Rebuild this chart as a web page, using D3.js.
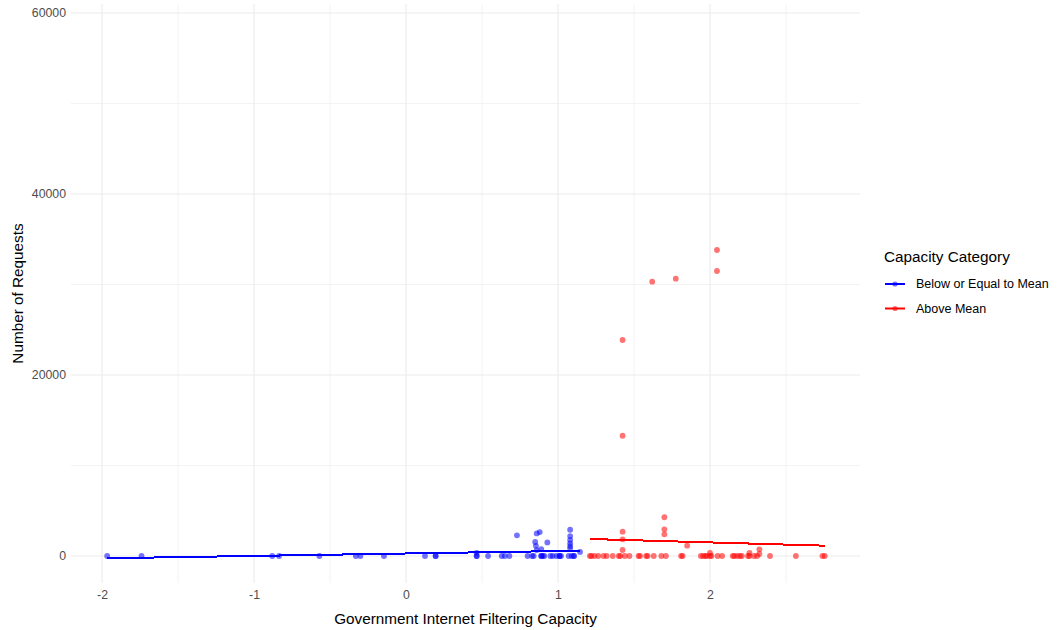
<!DOCTYPE html>
<html>
<head>
<meta charset="utf-8">
<script src="https://cdn.jsdelivr.net/npm/d3@7/dist/d3.min.js"></script>
<style>
  html, body { margin: 0; padding: 0; background: #ffffff; }
  svg { display: block; font-family: "Liberation Sans", Arial, sans-serif; }
</style>
</head>
<body>
<svg id="chart" width="1058" height="630"></svg>
<script>
// Filtering capacity (x) and number of requests (y), split by capacity category
const belowX = [-1.966, -1.74, -0.88, -0.835, -0.57, -0.33, -0.30, -0.145, 0.125, 0.195, 0.195,
  0.465, 0.465, 0.465, 0.54, 0.63, 0.65, 0.68, 0.73, 0.80, 0.83, 0.84, 0.85, 0.855, 0.86, 0.86,
  0.88, 0.89, 0.89, 0.89, 0.90, 0.91, 0.93, 0.95, 0.965, 0.99, 1.01, 1.01, 1.02, 1.07, 1.08, 1.08,
  1.08, 1.08, 1.08, 1.08, 1.09, 1.105, 1.105, 1.145];
const belowY = [0, 0, 0, 0, 0, 0, 0, 0, 0, 0, 0,
  0, 0, 350, 0, 0, 0, 0, 2290, 0, 0, 0, 1550, 1120, 660, 2500,
  2640, 770, 0, 0, 0, 0, 1500, 0, 0, 0, 0, 0, 0, 0, 2900, 2200,
  1780, 1400, 1100, 850, 0, 0, 0, 450];

const aboveX = [1.21, 1.22, 1.24, 1.265, 1.30, 1.32, 1.36, 1.40, 1.41, 1.425, 1.425, 1.425, 1.425,
  1.425, 1.44, 1.47, 1.53, 1.54, 1.58, 1.59, 1.62, 1.63, 1.68, 1.70, 1.70, 1.70, 1.71, 1.775,
  1.81, 1.82, 1.85, 1.94, 1.955, 1.97, 1.98, 2.0, 2.0, 2.01, 2.046, 2.046, 2.05, 2.08, 2.15, 2.16,
  2.18, 2.197, 2.21, 2.25, 2.26, 2.26, 2.29, 2.31, 2.325, 2.325, 2.395, 2.565, 2.74, 2.755];
const aboveY = [0, 0, 0, 0, 0, 0, 0, 0, 0, 663, 1845, 2685, 13290,
  23870, 0, 0, 0, 0, 0, 0, 30310, 0, 0, 2400, 2950, 4280, 0, 30640,
  0, 0, 1140, 0, 0, 0, 0, 330, 0, 0, 31490, 33810, 0, 0, 0, 0,
  0, 0, 0, 0, 0, 330, 0, 0, 740, 221, 0, 0, 0, 0];

// Linear fit per category: [intercept, slope]
const belowFit = [277, 268];
const aboveFit = [2455, -477];

const categories = ["Below or Equal to Mean", "Above Mean"];
const colors = ["#0000ff", "#ff0000"];

const xTicks = [-2, -1, 0, 1, 2];
const xMinor = [-1.5, -0.5, 0.5, 1.5, 2.5];
const yTicks = [0, 20000, 40000, 60000];
const yMinor = [10000, 30000, 50000];

const xDomain = [-2.204, 2.987];
const yDomain = [-2983, 60994];

const panel = { left: 71, right: 860, top: 4, bottom: 583 };

const svg = d3.select("#chart");
const x = d3.scaleLinear().domain(xDomain).range([panel.left, panel.right]);
const y = d3.scaleLinear().domain(yDomain).range([panel.bottom, panel.top]);

// grid
const grid = svg.append("g");
grid.selectAll("line.xminor").data(xMinor).join("line")
  .attr("x1", d => x(d)).attr("x2", d => x(d))
  .attr("y1", panel.top).attr("y2", panel.bottom)
  .attr("stroke", "#f3f3f3").attr("stroke-width", 1);
grid.selectAll("line.yminor").data(yMinor).join("line")
  .attr("x1", panel.left).attr("x2", panel.right)
  .attr("y1", d => y(d)).attr("y2", d => y(d))
  .attr("stroke", "#f3f3f3").attr("stroke-width", 1);
grid.selectAll("line.xmajor").data(xTicks).join("line")
  .attr("x1", d => x(d)).attr("x2", d => x(d))
  .attr("y1", panel.top).attr("y2", panel.bottom)
  .attr("stroke", "#ebebeb").attr("stroke-width", 1.1);
grid.selectAll("line.ymajor").data(yTicks).join("line")
  .attr("x1", panel.left).attr("x2", panel.right)
  .attr("y1", d => y(d)).attr("y2", d => y(d))
  .attr("stroke", "#ebebeb").attr("stroke-width", 1.1);

// axes
const xAxis = svg.append("g")
  .attr("transform", `translate(0,${panel.bottom})`)
  .call(d3.axisBottom(x).tickValues(xTicks).tickSize(0).tickPadding(7)
    .tickFormat(d => String(d)));
const yAxis = svg.append("g")
  .attr("transform", `translate(${panel.left},0)`)
  .call(d3.axisLeft(y).tickValues(yTicks).tickSize(0).tickPadding(5)
    .tickFormat(d => String(d)));
[xAxis, yAxis].forEach(a => {
  a.select(".domain").remove();
  a.selectAll("text").attr("fill", "#4d4d4d")
    .style("font-size", "12.3px").style("font-family", "'Liberation Sans', Arial, sans-serif");
});

// points
function drawPoints(xs, ys, color) {
  svg.append("g").selectAll("circle").data(xs.map((d, i) => [d, ys[i]])).join("circle")
    .attr("cx", d => x(d[0])).attr("cy", d => y(d[1]))
    .attr("r", 2.9)
    .attr("fill", color).attr("fill-opacity", 0.55);
}
drawPoints(belowX, belowY, colors[0]);
drawPoints(aboveX, aboveY, colors[1]);

// fitted lines across each group's x-range
function drawFit(xs, fit, color) {
  const ext = d3.extent(xs);
  svg.append("path")
    .datum(ext.map(v => [v, fit[0] + fit[1] * v]))
    .attr("d", d3.line().x(d => x(d[0])).y(d => y(d[1])))
    .attr("fill", "none").attr("stroke", color).attr("stroke-width", 2)
    .attr("shape-rendering", "crispEdges");
}
drawFit(belowX, belowFit, colors[0]);
drawFit(aboveX, aboveFit, colors[1]);

// axis titles
svg.append("text")
  .attr("x", (panel.left + panel.right) / 2).attr("y", 618)
  .attr("text-anchor", "middle").attr("dominant-baseline", "central")
  .style("font-size", "15.3px").attr("fill", "#000")
  .text("Government Internet Filtering Capacity");
svg.append("text")
  .attr("transform", `translate(17,${(panel.top + panel.bottom) / 2}) rotate(-90)`)
  .attr("text-anchor", "middle").attr("dominant-baseline", "central")
  .style("font-size", "15.3px").attr("fill", "#000")
  .text("Number of Requests");

// legend
const legend = svg.append("g").attr("transform", "translate(884,0)");
legend.append("text")
  .attr("x", 0).attr("y", 256).attr("dominant-baseline", "central")
  .style("font-size", "15.3px").attr("fill", "#000")
  .text("Capacity Category");
const keys = legend.selectAll("g.key").data(categories).join("g")
  .attr("transform", (d, i) => `translate(0,${284 + i * 24.5})`);
keys.append("line")
  .attr("x1", 1).attr("x2", 21).attr("y1", 0).attr("y2", 0)
  .attr("stroke", (d, i) => colors[i]).attr("stroke-width", 2);
keys.append("circle")
  .attr("cx", 11).attr("cy", 0).attr("r", 2.6)
  .attr("fill", (d, i) => colors[i]).attr("fill-opacity", 0.55);
keys.append("text")
  .attr("x", 32).attr("y", 0).attr("dominant-baseline", "central")
  .style("font-size", "12.5px").attr("fill", "#000")
  .text(d => d);
</script>
</body>
</html>
